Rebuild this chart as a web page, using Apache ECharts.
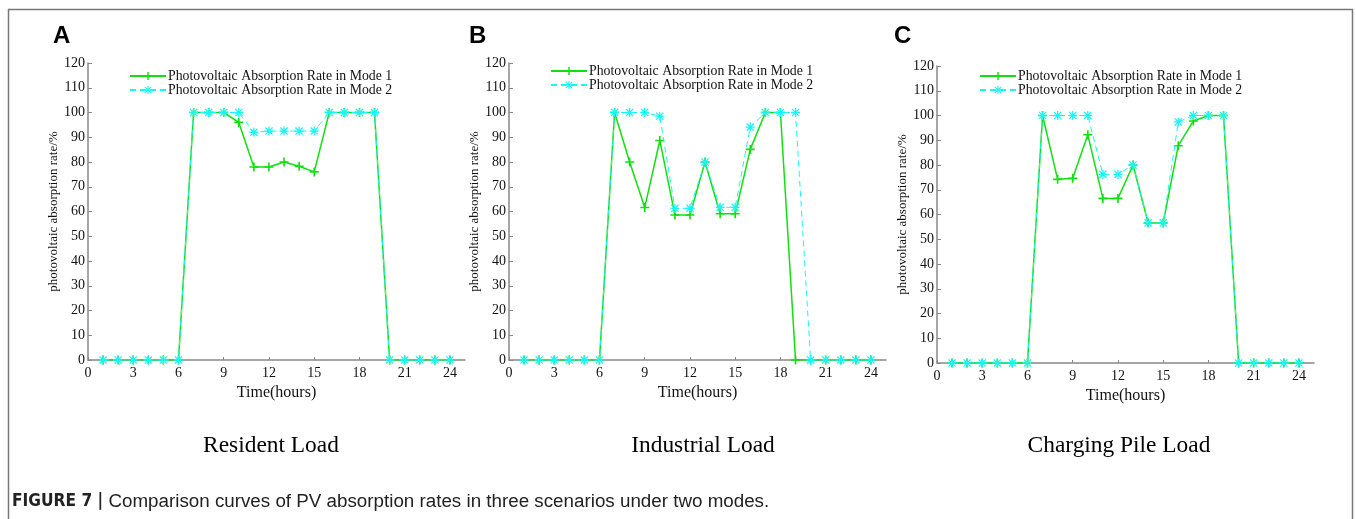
<!DOCTYPE html>
<html>
<head>
<meta charset="utf-8">
<title>PV absorption rates</title>
<script src="https://cdn.jsdelivr.net/npm/echarts@6/dist/echarts.min.js"></script>
<style>
  html, body { margin: 0; padding: 0; background: #fff; }
  #main { width: 1356px; height: 519px; }
</style>
</head>
<body>
<div id="main"></div>
<script>
// hours on the x axis
var hours = [1,2,3,4,5,6,7,8,9,10,11,12,13,14,15,16,17,18,19,20,21,22,23,24];
var xTicks = [0,3,6,9,12,15,18,21,24];

// A - resident load
var residentMode1 = [0,0,0,0,0,0,100,100,100,96,78,78,80,78.3,76,100,100,100,100,0,0,0,0,0];
var residentMode2 = [0,0,0,0,0,0,100,100,100,100,92,92.5,92.5,92.5,92.5,100,100,100,100,0,0,0,0,0];
// B - industrial load
var industrialMode1 = [0,0,0,0,0,0,100,80,61.6,88.7,58.6,58.6,80,59.1,59.1,85.1,100,100,0,0,0,0,0,0];
var industrialMode2 = [0,0,0,0,0,0,100,100,100,98.5,61.3,61.3,80,61.7,61.7,94.1,100,100,100,0,0,0,0,0];
// C - charging pile load
var chargingMode1 = [0,0,0,0,0,0,100,74.2,74.6,92.2,66.5,66.5,80,56.6,56.6,87.8,97.8,100,100,0,0,0,0,0];
var chargingMode2 = [0,0,0,0,0,0,100,100,100,100,76.2,76.2,80,56.6,56.6,97.4,100,100,100,0,0,0,0,0];

var name1 = 'Photovoltaic Absorption Rate in Mode 1';
var name2 = 'Photovoltaic Absorption Rate in Mode 2';
var serif = 'Liberation Serif';
var green = '#10e010';
var cyan = '#19f5f5';
var plusPath = 'path://M4.1,0H5.9V10H4.1Z M0,4.1H10V5.9H0Z';
var starPath = 'path://M4.3,0H5.7V10H4.3Z M0,4.3H10V5.7H0Z M1.5,0.5L9.5,8.5L8.5,9.5L0.5,1.5Z M8.5,0.5L9.5,1.5L1.5,9.5L0.5,8.5Z';

var panels = [
    {m1: residentMode1, m2: residentMode2, left: 88, top: 63, legendLeft: 129, legendTop: 69},
    {m1: industrialMode1, m2: industrialMode2, left: 509, top: 63, legendLeft: 550, legendTop: 64},
    {m1: chargingMode1, m2: chargingMode2, left: 937, top: 66, legendLeft: 979, legendTop: 69}
];

function pairs(vals) {
    return hours.map(function (h, i) { return [h, vals[i]]; });
}

var grids = [], xAxes = [], yAxes = [], series = [], legends = [];
panels.forEach(function (p, k) {
    grids.push({left: p.left, top: p.top, width: 377, height: 297, containLabel: false});
    xAxes.push({
        type: 'value', gridIndex: k, min: 0, max: 25,
        name: 'Time(hours)', nameLocation: 'middle', nameGap: 20,
        nameTextStyle: {fontFamily: serif, fontSize: 16, color: '#111'},
        axisLine: {lineStyle: {color: '#888', width: 1.5}},
        axisTick: {inside: true, length: 3, customValues: xTicks, lineStyle: {color: '#888'}},
        axisLabel: {customValues: xTicks, fontFamily: serif, fontSize: 14, color: '#111', margin: 6},
        splitLine: {show: false}
    });
    yAxes.push({
        type: 'value', gridIndex: k, min: 0, max: 120, interval: 10,
        name: 'photovoltaic absorption rate/%', nameLocation: 'middle', nameGap: 20,
        nameTextStyle: {fontFamily: serif, fontSize: 13, color: '#111'},
        axisLine: {show: true, lineStyle: {color: '#888', width: 1.5}},
        axisTick: {show: true, inside: true, length: 4, lineStyle: {color: '#888'}},
        axisLabel: {fontFamily: serif, fontSize: 14, color: '#111', margin: 3},
        splitLine: {show: false}
    });
    series.push({
        name: name1, type: 'line', xAxisIndex: k, yAxisIndex: k,
        data: pairs(p.m1), symbol: plusPath, symbolSize: 9,
        lineStyle: {color: green, width: 1.5},
        itemStyle: {color: green}, z: 2
    });
    series.push({
        name: name2, type: 'line', xAxisIndex: k, yAxisIndex: k,
        data: pairs(p.m2), symbol: starPath, symbolSize: 9,
        lineStyle: {color: cyan, width: 1, type: [6, 4]},
        itemStyle: {color: cyan}, z: 3
    });
    legends.push({
        orient: 'vertical', left: p.legendLeft, top: p.legendTop, padding: 0,
        itemWidth: 36, itemHeight: 10, itemGap: 0,
        data: [name1, name2], selectedMode: false,
        textStyle: {fontFamily: serif, fontSize: 13.8, color: '#111', lineHeight: 14, padding: [0, 0, 0, -3]}
    });
});

var letterFont = 'bold 24px "Liberation Sans"';
var subFont = '23.4px "Liberation Serif"';

var chart = echarts.init(document.getElementById('main'), null, {renderer: 'canvas'});
chart.setOption({
    animation: false,
    backgroundColor: '#fff',
    grid: grids,
    xAxis: xAxes,
    yAxis: yAxes,
    legend: legends,
    series: series,
    graphic: [
        {type: 'polyline', shape: {points: [[8.5, 519], [8.5, 9.5], [1352.5, 9.5], [1352.5, 519]]},
         style: {stroke: '#777', lineWidth: 1.5, fill: null}},
        {type: 'text', left: 53, top: 24, style: {text: 'A', font: letterFont, fill: '#000'}},
        {type: 'text', left: 469, top: 24, style: {text: 'B', font: letterFont, fill: '#000'}},
        {type: 'text', left: 894, top: 24, style: {text: 'C', font: letterFont, fill: '#000'}},
        {type: 'text', x: 271, y: 446, style: {text: 'Resident Load', font: subFont, fill: '#000', align: 'center', verticalAlign: 'middle'}},
        {type: 'text', x: 703, y: 446, style: {text: 'Industrial Load', font: subFont, fill: '#000', align: 'center', verticalAlign: 'middle'}},
        {type: 'text', x: 1119, y: 446, style: {text: 'Charging Pile Load', font: subFont, fill: '#000', align: 'center', verticalAlign: 'middle'}},
        {type: 'text', x: 12, y: 502, style: {
            text: '{b|FIGURE 7 |} Comparison curves of PV absorption rates in three scenarios under two modes.',
            fontFamily: 'Liberation Sans', fontSize: 18.8, fill: '#222', verticalAlign: 'middle',
            rich: {b: {fontFamily: '"DejaVu Sans Condensed", "Liberation Sans"', fontSize: 17.2, fontWeight: 'bold', fill: '#222'}}
        }}
    ]
});
</script>
</body>
</html>
